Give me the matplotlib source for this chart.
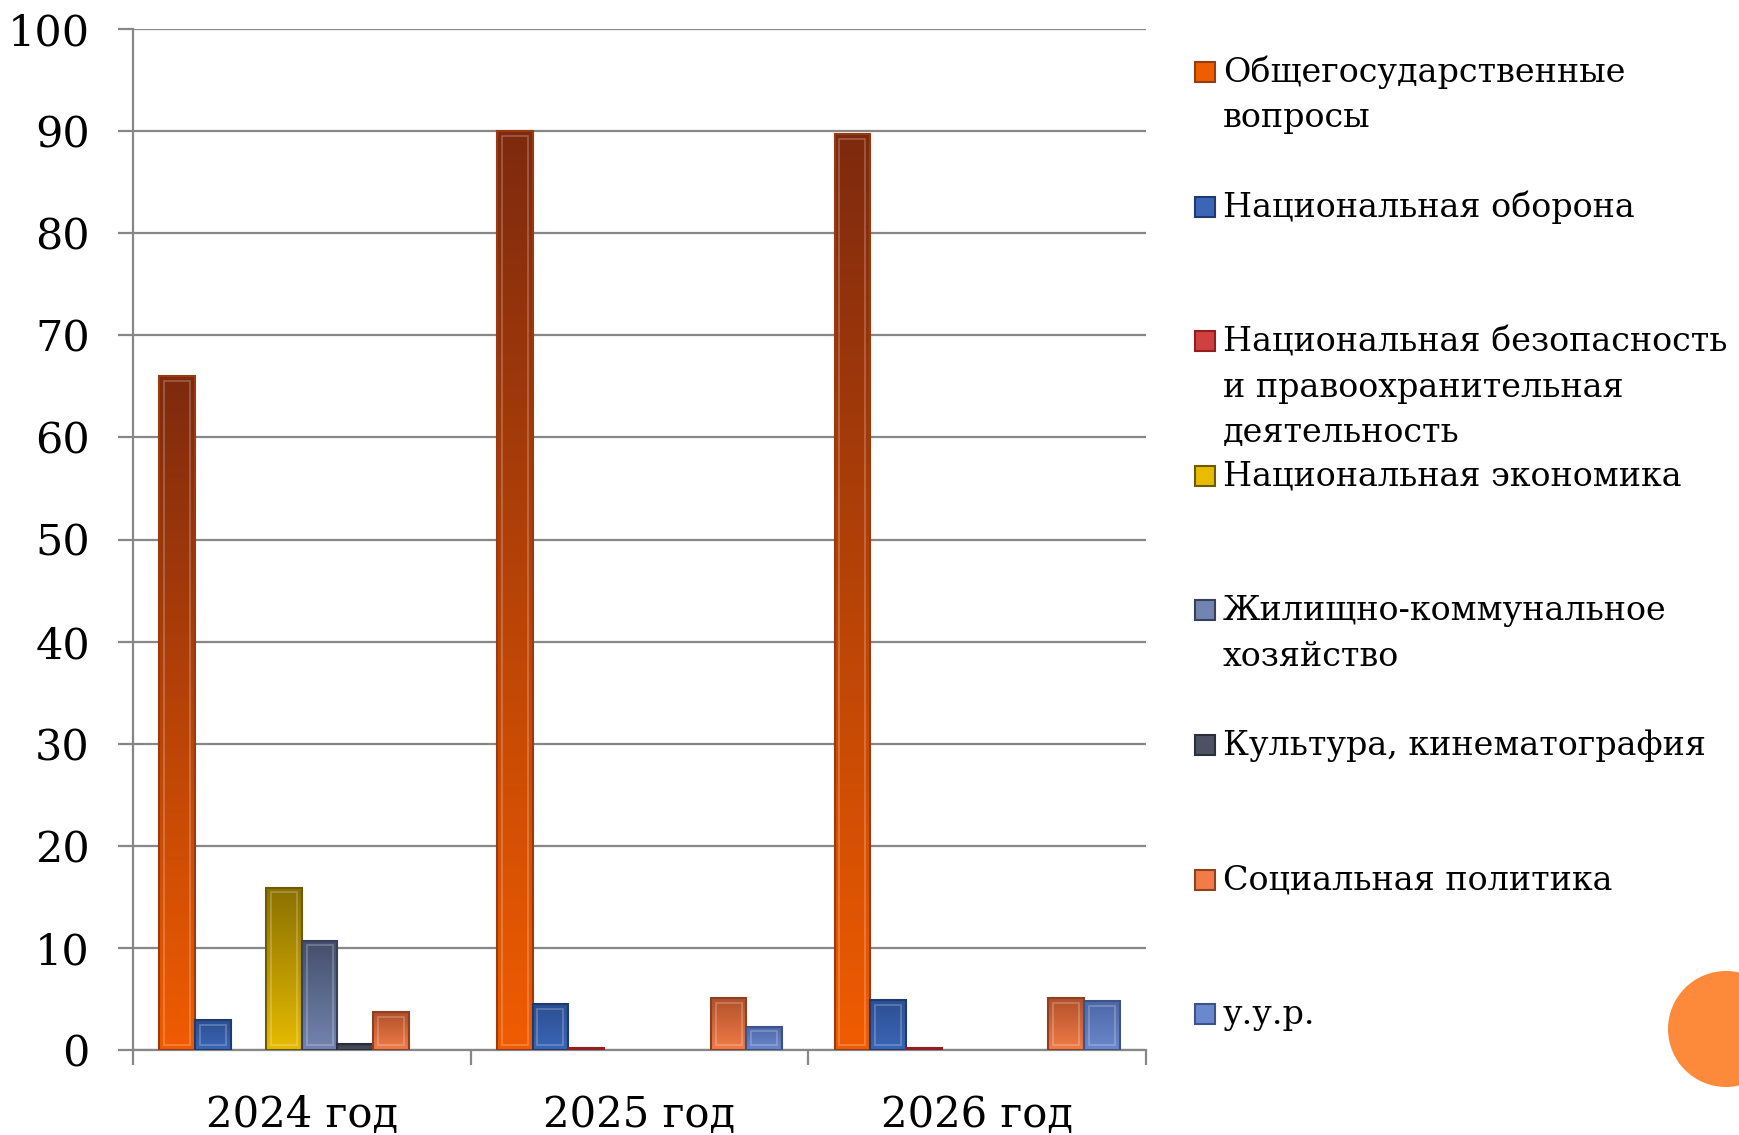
import numpy as np
import matplotlib
matplotlib.use("Agg")
import matplotlib.pyplot as plt
from matplotlib.colors import LinearSegmentedColormap
from matplotlib.patches import Rectangle, Ellipse

years = ["2024 год", "2025 год", "2026 год"]

series = [
    "Общегосударственные\nвопросы",
    "Национальная оборона",
    "Национальная безопасность\nи правоохранительная\nдеятельность",
    "Национальная экономика",
    "Жилищно-коммунальное\nхозяйство",
    "Культура, кинематография",
    "Социальная политика",
    "у.у.р.",
]

obshchegos = [66.0, 90.0, 89.7]
oborona = [2.9, 4.5, 4.9]
bezopasnost = [0.0, 0.15, 0.15]
ekonomika = [15.9, 0.0, 0.0]
zhkh = [10.7, 0.0, 0.0]
kultura = [0.6, 0.0, 0.0]
socpolitika = [3.7, 5.1, 5.1]
uur = [0.0, 2.3, 4.8]

values = [obshchegos, oborona, bezopasnost, ekonomika, zhkh, kultura, socpolitika, uur]

# (top colour, bottom colour, edge colour)
colors = [
    ("#7e2a0e", "#f05c00", "#9a3a10"),
    ("#2c4f92", "#3b66b6", "#1f3a70"),
    ("#b02020", "#d04040", "#902020"),
    ("#8a7000", "#e6bb00", "#6e5a00"),
    ("#454f6a", "#7284b0", "#384058"),
    ("#343a48", "#4a5264", "#2a2f3a"),
    ("#b0502a", "#f27c48", "#8e4020"),
    ("#4d67a6", "#6a88cc", "#3c5288"),
]

plt.rcParams['font.family'] = ['DejaVu Serif']

fig = plt.figure(figsize=(17.4, 11.35), dpi=100)
ax = fig.add_axes([133/1740, 1 - 1050/1135, (1146-133)/1740, (1050-29)/1135])

grey = "#878787"
n = len(series)
w = 0.1056
off = (1 - n*w) / 2
x = np.arange(len(years))


def grad_bar(rect, c_top, c_bot):
    x0, y0 = rect.get_x(), rect.get_y()
    bw, h = rect.get_width(), rect.get_height()
    cmap = LinearSegmentedColormap.from_list("g", [c_bot, c_top])
    grad = np.linspace(0, 1, 256).reshape(-1, 1)
    im = ax.imshow(grad, extent=[x0, x0+bw, y0, y0+h], origin="lower",
                   cmap=cmap, aspect="auto", zorder=3, interpolation="bicubic")
    im.set_clip_path(rect)
    # faint bevel line inside the bar
    dx, dy = 0.014, 0.45
    if h > 3*dy:
        ax.add_patch(Rectangle((x0+dx, y0+dy), bw-2*dx, h-2*dy, facecolor="none",
                               edgecolor="white", alpha=0.25, linewidth=1.2, zorder=5))


for i, (vals, (ct, cb, ce)) in enumerate(zip(values, colors)):
    bars = ax.bar(x + off + i*w, vals, width=w, align="edge",
                  facecolor="none", edgecolor=ce, linewidth=1.5, zorder=4)
    for b in bars:
        if b.get_height() <= 0:
            b.set_visible(False)
            continue
        grad_bar(b, ct, cb)

ax.set_xlim(0, 3)
ax.set_ylim(0, 100)
ax.set_yticks(np.arange(0, 101, 10))
ax.yaxis.grid(True, color=grey, linewidth=1.6, zorder=0)
ax.set_axisbelow(True)

ax.set_xticks([0, 1, 2, 3])
ax.set_xticklabels([])
ax.set_xticks(x + 0.5, minor=True)
ax.set_xticklabels(years, minor=True)
ax.tick_params(axis="x", which="minor", length=0, labelsize=30, pad=32)
ax.tick_params(axis="x", which="major", length=11, width=1.6, color=grey)
ax.tick_params(axis="y", length=11, width=1.6, color=grey, labelsize=31, pad=20)

for s in ["top", "right"]:
    ax.spines[s].set_visible(False)
for s in ["left", "bottom"]:
    ax.spines[s].set_color(grey)
    ax.spines[s].set_linewidth(1.6)

# legend drawn by hand to keep Excel-like spacing
W, H = 1740, 1135
base0 = 82
step = 134.6
line_h = 45.5
for i, (name, (ct, cb, ce)) in enumerate(zip(series, colors)):
    base = base0 + i*step
    fig.patches.append(Rectangle((1195/W, 1 - base/H), 20/W, 20/H,
                                 transform=fig.transFigure, facecolor=cb,
                                 edgecolor=ce, linewidth=1.5))
    for j, line in enumerate(name.split("\n")):
        fig.text(1223/W, 1 - (base + j*line_h)/H, line, fontsize=24,
                 va="baseline", ha="left")

r = 58
fig.patches.append(Ellipse((1726/W, 1 - 1029/H), 2*r/W, 2*r/H, transform=fig.transFigure,
                           facecolor="#fd8a3b", edgecolor="none"))

fig.savefig("out.png", dpi=100)
